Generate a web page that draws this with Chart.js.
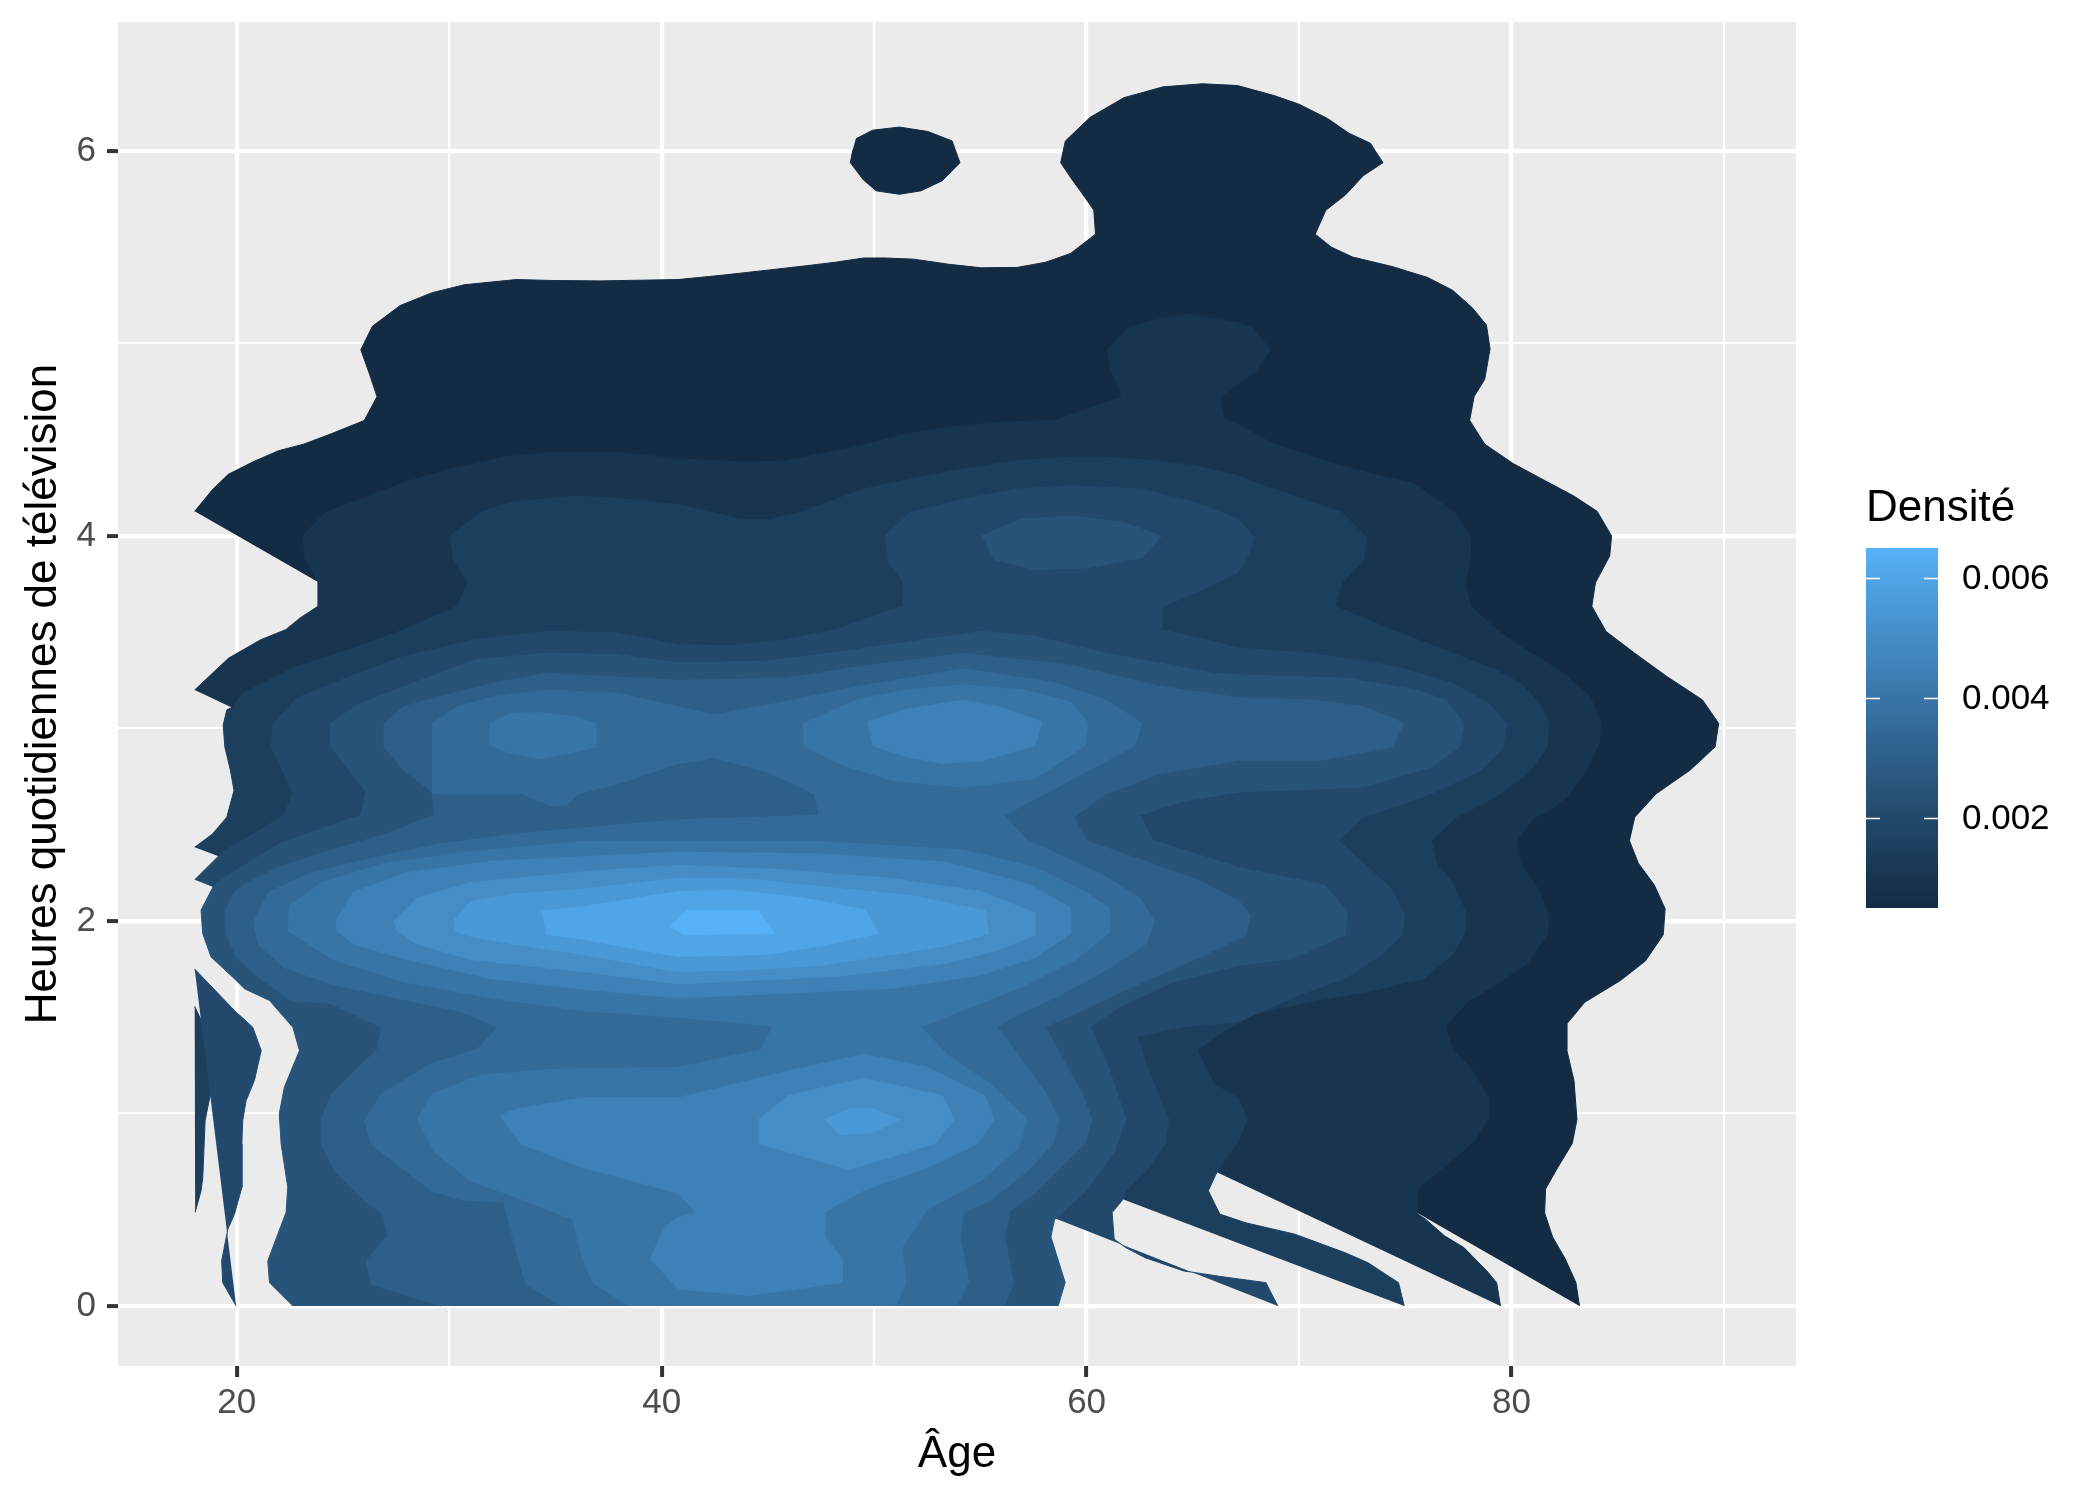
<!DOCTYPE html>
<html lang="fr">
<head>
<meta charset="UTF-8">
<title>Densité - Âge et heures de télévision</title>
<script src="https://cdn.jsdelivr.net/npm/chart.js@4.4.1/dist/chart.umd.min.js"></script>
<style>
  html, body { margin: 0; padding: 0; background: #ffffff; }
  #cadre { width: 2100px; height: 1500px; }
</style>
</head>
<body>
<div id="cadre"><canvas id="graphique" width="2100" height="1500"></canvas></div>
<script>
// niveaux des contours de densité (du plus bas au plus haut)
const niveaux = [0.0005, 0.001, 0.0015, 0.002, 0.0025, 0.003, 0.0035, 0.004, 0.0045, 0.005, 0.0055, 0.006, 0.0065];
const ticksX = [20, 40, 60, 80];
const grilleX = [20, 30, 40, 50, 60, 70, 80, 90];
const ticksY = [0, 2, 4, 6];
const grilleY = [0, 1, 2, 3, 4, 5, 6];
const ticksLegende = [0.002, 0.004, 0.006];

// contours : paires (âge, heures)
const niveau1_a = [18.02,4.128, 18.86,4.241, 19.6,4.32, 20.8,4.387, 21.97,4.443, 23.15,4.477, 24.5,4.533, 26.0,4.6, 26.6,4.724, 26.26,4.837, 25.84,4.967, 26.38,5.089, 27.69,5.197, 29.2,5.264, 30.71,5.305, 33.15,5.332, 34.92,5.327, 37.1,5.325, 40.77,5.332, 42.8,5.354, 44.98,5.381, 46.83,5.404, 48.17,5.422, 49.51,5.444, 50.52,5.444, 51.86,5.438, 53.54,5.411, 55.05,5.393, 56.73,5.395, 58.07,5.422, 59.24,5.467, 60.42,5.568, 60.34,5.692, 59.92,5.759, 59.33,5.849, 58.78,5.939, 59.0,6.052, 60.17,6.175, 61.76,6.277, 63.6,6.333, 65.45,6.349, 67.1,6.34, 68.82,6.288, 70.0,6.243, 71.34,6.169, 72.35,6.092, 73.36,6.04, 73.95,5.939, 73.03,5.872, 72.18,5.771, 71.26,5.692, 70.76,5.568, 71.51,5.501, 72.52,5.449, 74.37,5.4, 76.05,5.343, 77.23,5.276, 78.15,5.186, 78.82,5.096, 78.99,4.972, 78.74,4.814, 78.24,4.724, 78.03,4.601, 78.74,4.477, 80.08,4.376, 81.6,4.286, 82.94,4.207, 84.03,4.128, 84.71,4.0, 84.62,3.896, 83.95,3.757, 83.78,3.635, 84.45,3.504, 85.8,3.391, 87.31,3.27, 88.99,3.148, 89.75,3.026, 89.58,2.904, 88.4,2.783, 86.81,2.661, 85.8,2.539, 85.55,2.417, 85.97,2.3, 86.72,2.187, 87.23,2.063, 87.14,1.928, 86.3,1.792, 85.13,1.691, 83.45,1.578, 82.6,1.465, 82.6,1.33, 82.94,1.171, 83.08,0.968, 82.86,0.844, 82.18,0.72, 81.6,0.607, 81.56,0.483, 81.93,0.359, 82.52,0.246, 83.03,0.122, 83.2,0];
const niveau1_b = [49.14,6.063, 49.93,6.108, 51.19,6.124, 52.53,6.101, 53.67,6.052, 54.04,5.939, 53.2,5.845, 52.2,5.793, 51.19,5.775, 50.1,5.793, 49.5,5.849, 48.88,5.939, 49.0,6.007];

const niveau2_a = [18.02,3.2, 19.61,3.365, 21.13,3.461, 22.3,3.513, 22.98,3.574, 23.82,3.635, 23.82,3.765, 23.23,3.878, 23.11,4.0, 24.15,4.122, 25.84,4.191, 27.86,4.278, 30.38,4.357, 32.57,4.409, 34.75,4.435, 37.95,4.435, 40.79,4.4, 44.14,4.383, 45.82,4.391, 47.84,4.435, 49.68,4.478, 51.53,4.53, 53.54,4.565, 55.89,4.591, 58.57,4.601, 61.67,4.724, 61.09,4.882, 61.0,4.972, 62.01,5.084, 63.1,5.118, 64.78,5.152, 67.14,5.107, 67.8,5.08, 68.66,4.967, 67.9,4.848, 67.14,4.792, 66.29,4.724, 66.46,4.612, 67.14,4.578, 68.82,4.477, 71.34,4.387, 73.53,4.319, 75.38,4.274, 77.39,4.117, 78.07,3.993, 78.07,3.892, 77.82,3.757, 78.07,3.633, 79.41,3.504, 80.42,3.426, 81.43,3.357, 82.44,3.287, 83.7,3.165, 84.2,3.035, 84.12,2.922, 83.53,2.783, 82.6,2.643, 81.76,2.574, 81.0,2.53, 80.25,2.417, 80.42,2.3, 81.26,2.165, 81.76,2.029, 81.68,1.928, 80.76,1.781, 79.24,1.668, 77.9,1.578, 76.89,1.454, 77.23,1.33, 78.07,1.239, 78.91,1.081, 78.91,0.98, 78.24,0.856, 77.06,0.743, 75.55,0.607, 75.59,0.477, 75.95,0.451, 76.85,0.364, 77.76,0.303, 78.84,0.182, 79.3,0.121, 79.48,0];

const niveau3_a = [18.02,2.383, 18.86,2.452, 19.53,2.539, 19.87,2.678, 19.7,2.783, 19.44,2.904, 19.36,3.017, 19.53,3.096, 19.78,3.11, 20.29,3.183, 22.81,3.322, 25.33,3.409, 27.86,3.513, 30.38,3.635, 30.88,3.757, 30.21,3.878, 30.04,4.0, 31.47,4.122, 32.9,4.173, 35.76,4.207, 37.95,4.196, 40.77,4.162, 42.47,4.122, 43.64,4.087, 45.15,4.087, 46.49,4.122, 48.0,4.183, 49.51,4.243, 51.69,4.296, 54.21,4.348, 56.73,4.391, 59.24,4.409, 60.92,4.409, 63.1,4.391, 65.12,4.365, 67.1,4.313, 69.66,4.209, 72.02,4.122, 73.19,3.991, 73.03,3.87, 72.02,3.757, 71.68,3.635, 74.37,3.513, 77.23,3.391, 79.24,3.304, 80.42,3.235, 81.26,3.139, 81.76,3.026, 81.68,2.904, 80.76,2.765, 79.24,2.643, 77.39,2.539, 76.22,2.417, 76.47,2.3, 77.23,2.199, 77.82,2.052, 77.82,1.939, 77.23,1.826, 75.88,1.702, 73.5,1.64, 70.5,1.58, 68.0,1.52, 66.5,1.43, 65.2,1.33, 66.0,1.15, 67.14,1.08, 67.56,0.97, 67.14,0.856, 66.5,0.76, 66.09,0.685, 65.73,0.598, 66.27,0.477, 67.45,0.433, 69.8,0.373, 72.15,0.277, 73.24,0.225, 74.68,0.121, 74.95,0];
const niveau3_b = [18.02,1.556, 18.9,1.35, 18.76,1.10, 18.51,0.963, 18.4,0.668, 18.32,0.598, 18.04,0.486];

const niveau4_a = [18.02,2.214, 19.16,2.339, 19.44,2.365, 20.79,2.452, 22.22,2.548, 22.64,2.661, 22.14,2.783, 21.63,2.904, 21.72,3.026, 22.81,3.157, 25.33,3.27, 27.86,3.374, 31.22,3.461, 34.58,3.504, 37.95,3.496, 40.79,3.435, 43.31,3.43, 45.82,3.461, 48.17,3.513, 51.36,3.635, 51.36,3.765, 50.69,3.861, 50.52,4.0, 51.69,4.122, 54.21,4.191, 56.73,4.243, 59.24,4.261, 62.6,4.243, 65.12,4.174, 67.14,4.087, 67.9,3.991, 67.56,3.887, 67.1,3.809, 65.12,3.704, 63.61,3.635, 63.52,3.513, 65.96,3.452, 67.14,3.417, 70.5,3.391, 74.54,3.322, 77.23,3.235, 78.91,3.13, 79.78,3.026, 79.58,2.896, 78.57,2.783, 76.22,2.661, 73.03,2.539, 71.85,2.417, 73.03,2.3, 74.37,2.165, 74.96,2.029, 74.87,1.928, 73.87,1.826, 72.18,1.702, 70.17,1.623, 67.14,1.476, 64.5,1.45, 62.35,1.4, 63.0,1.2, 63.86,0.97, 63.7,0.844, 62.8,0.7, 61.84,0.598, 61.66,0.546, 61.2,0.485, 61.3,0.347, 61.84,0.303, 62.75,0.251, 64.56,0.182, 66.5,0.15, 68.44,0.121, 69.0,0];
const niveau4_b = [18.02,1.75, 19.89,1.535, 20.75,1.448, 21.15,1.327, 20.83,1.171, 20.44,1.067, 20.28,0.963, 20.24,0.841, 20.24,0.616, 19.89,0.477, 19.58,0.399, 19.29,0.234, 19.34,0.121, 19.97,0];

const niveau5_a = [22.64,0, 21.54,0.121, 21.46,0.234, 22.32,0.486, 22.4,0.616, 22.09,0.841, 22.0,0.997, 22.24,1.136, 22.95,1.327, 22.64,1.448, 21.54,1.587, 20.36,1.648, 19.89,1.7, 18.79,1.813, 18.4,1.934, 18.32,2.056, 18.9,2.18, 19.5,2.23, 20.5,2.3, 22.0,2.4, 24.0,2.48, 25.84,2.55, 26.09,2.67, 24.41,2.91, 24.41,3.026, 25.67,3.122, 27.86,3.217, 31.22,3.357, 34.58,3.391, 37.95,3.383, 40.79,3.34, 45.0,3.35, 49.2,3.41, 55.05,3.504, 57.57,3.478, 60.92,3.391, 65.96,3.287, 67.14,3.278, 72.18,3.261, 75.55,3.2, 76.89,3.148, 77.78,3.026, 77.56,2.904, 76.22,2.8, 73.03,2.696, 67.14,2.67, 64.5,2.62, 62.5,2.55, 63.1,2.42, 67.14,2.278, 71.18,2.187, 72.27,2.052, 72.18,1.928, 69.66,1.804, 67.14,1.77, 64.0,1.68, 61.5,1.55, 60.17,1.45, 61.0,1.25, 61.85,0.97, 61.3,0.8, 60.0,0.6, 58.49,0.449, 58.32,0.359, 58.99,0.122, 58.66,0];
const niveau5_b = [55.05,4.0, 56.9,4.087, 59.24,4.104, 61.76,4.07, 63.52,4.0, 62.6,3.887, 60.08,3.835, 57.57,3.826, 55.64,3.878];

const niveau6_a = [29.62,0, 26.33,0.113, 26.09,0.234, 27.11,0.364, 26.88,0.477, 26.01,0.546, 24.6,0.703, 23.97,0.841, 23.97,0.963, 24.44,1.101, 26.64,1.336, 26.8,1.448, 24.44,1.57, 22.56,1.587, 20.99,1.709, 19.97,1.813, 19.5,1.934, 19.45,2.05, 19.9,2.15, 20.5,2.2, 22.0,2.28, 24.5,2.37, 27.0,2.45, 29.3,2.55, 29.2,2.67, 27.86,2.783, 26.93,2.904, 26.93,3.026, 27.86,3.113, 29.54,3.165, 32.06,3.235, 34.58,3.287, 40.77,3.25, 45.8,3.26, 49.2,3.32, 54.2,3.39, 59.2,3.33, 63.4,3.22, 67.14,3.16, 70.5,3.148, 73.03,3.113, 74.96,3.026, 74.37,2.904, 71.0,2.835, 67.14,2.835, 63.44,2.765, 60.92,2.661, 59.41,2.539, 60.0,2.417, 63.1,2.297, 65.5,2.2, 67.2,2.1, 67.7,2.03, 67.5,1.93, 65.5,1.82, 62.0,1.65, 59.5,1.52, 58.07,1.45, 58.8,1.3, 59.8,1.1, 60.25,0.97, 59.92,0.844, 57.57,0.585, 56.39,0.494, 56.14,0.359, 56.56,0.122, 56.14,0];

const niveau7_a = [35.26,0, 33.57,0.12, 33.24,0.25, 32.56,0.54, 30.6,0.55, 29.15,0.598, 27.74,0.72, 26.33,0.841, 26.01,0.963, 26.8,1.101, 29.15,1.258, 31.35,1.336, 32.29,1.448, 30.5,1.53, 27.5,1.6, 24.5,1.67, 22.2,1.76, 21.0,1.88, 20.8,2.0, 21.5,2.15, 23.5,2.25, 26.5,2.33, 29.5,2.4, 33.0,2.45, 37.0,2.49, 40.79,2.526, 47.42,2.549, 47.17,2.661, 44.98,2.774, 42.47,2.847, 40.77,2.817, 37.95,2.713, 36.1,2.661, 35.5,2.6, 34.75,2.6, 33.4,2.661, 29.2,2.661, 29.2,3.026, 30.38,3.113, 32.06,3.165, 34.58,3.2, 37.95,3.183, 40.77,3.113, 42.47,3.07, 45.82,3.139, 49.18,3.217, 54.21,3.31, 58.4,3.24, 60.92,3.148, 62.6,3.03, 62.27,2.91, 60.92,2.83, 58.24,2.673, 56.14,2.549, 57.15,2.424, 59.0,2.33, 60.9,2.23, 62.5,2.12, 63.2,2.0, 62.8,1.88, 61.0,1.75, 58.5,1.6, 56.5,1.5, 55.8,1.45, 56.8,1.3, 58.0,1.12, 58.7,0.97, 58.4,0.84, 57.2,0.7, 55.5,0.55, 54.21,0.483, 54.04,0.359, 54.46,0.122, 53.88,0];

const niveau8_a = [38.45,0, 36.77,0.12, 36.27,0.246, 35.8,0.45, 33.5,0.55, 31.0,0.65, 29.3,0.8, 28.5,0.97, 29.2,1.1, 31.5,1.2, 35.0,1.23, 40.79,1.24, 44.66,1.33, 45.24,1.454, 40.79,1.5, 36.3,1.533, 32.0,1.6, 28.0,1.68, 24.5,1.8, 22.4,1.95, 22.5,2.08, 24.0,2.2, 27.0,2.3, 31.0,2.36, 36.3,2.413, 40.79,2.413, 47.5,2.413, 54.21,2.368, 57.57,2.278, 60.08,2.142, 61.09,2.063, 61.09,1.94, 59.5,1.8, 57.0,1.66, 54.0,1.53, 52.2,1.45, 53.5,1.3, 55.5,1.15, 57.2,0.97, 56.8,0.82, 55.0,0.65, 52.5,0.5, 51.3,0.3, 51.5,0.12, 51.02,0];
const niveau8_b = [31.89,3.026, 32.9,3.078, 34.25,3.082, 35.93,3.061, 36.9,3.026, 36.9,2.904, 35.59,2.87, 34.25,2.843, 32.9,2.87, 31.89,2.913];
const niveau8_c = [46.66,3.026, 49.18,3.148, 51.5,3.2, 54.21,3.226, 57.0,3.2, 59.24,3.139, 60.08,3.026, 59.92,2.91, 57.57,2.74, 54.21,2.695, 50.86,2.73, 48.5,2.81, 46.66,2.91];

const niveau9_a = [24.66,2.0, 25.5,2.15, 28.0,2.25, 32.0,2.31, 36.3,2.334, 40.79,2.357, 47.5,2.348, 53.37,2.305, 57.23,2.192, 59.24,2.07, 59.24,1.935, 57.57,1.81, 55.05,1.72, 50.86,1.65, 40.79,1.6, 36.3,1.646, 32.0,1.7, 28.0,1.8, 25.5,1.88, 24.7,1.95];
const niveau9_b = [49.68,3.034, 51.53,3.1, 54.21,3.147, 55.89,3.113, 57.9,3.034, 57.57,2.91, 55.05,2.831, 53.2,2.819, 51.53,2.853, 49.93,2.91];
const niveau9_c = [32.36,0.99, 33.24,1.025, 36.27,1.081, 40.79,1.081, 45.82,1.217, 49.51,1.307, 52.5,1.24, 55.22,1.093, 55.64,0.968, 54.88,0.844, 52.53,0.72, 49.5,0.6, 48.17,0.52, 47.67,0.483, 47.67,0.359, 48.5,0.246, 48.5,0.122, 44.14,0.054, 40.79,0.088, 39.46,0.246, 40.13,0.404, 40.77,0.46, 41.63,0.483, 40.79,0.585, 36.27,0.72, 33.32,0.844];

const niveau10_a = [27.4,2.0, 28.5,2.12, 31.0,2.2, 36.3,2.255, 40.79,2.29, 45.82,2.266, 50.86,2.22, 55.05,2.153, 57.57,2.04, 57.57,1.928, 55.89,1.849, 53.37,1.78, 48.34,1.713, 40.79,1.673, 36.3,1.736, 31.0,1.8, 28.5,1.88, 27.5,1.95];
const niveau10_b = [44.56,0.968, 45.99,1.093, 49.51,1.183, 53.2,1.093, 53.79,0.968, 52.87,0.844, 48.84,0.709, 44.56,0.844];

const niveau11_a = [30.2,2.0, 31.0,2.1, 33.0,2.14, 36.3,2.165, 40.79,2.223, 44.14,2.217, 47.5,2.178, 51.69,2.133, 55.22,2.054, 55.39,1.935, 53.37,1.871, 50.86,1.826, 47.5,1.77, 44.14,1.747, 40.79,1.736, 36.3,1.826, 33.0,1.88, 31.0,1.92, 30.25,1.95];
const niveau11_b = [47.67,0.968, 48.84,1.025, 49.93,1.025, 51.19,0.968, 49.93,0.9, 48.34,0.889];

const niveau12_a = [34.33,2.05, 36.3,2.074, 40.79,2.153, 43.31,2.16, 46.66,2.12, 49.6,2.056, 50.2,1.935, 47.5,1.871, 44.98,1.826, 40.79,1.815, 36.3,1.905, 34.58,1.93];

const niveau13_a = [40.39,1.97, 41.2,2.056, 44.56,2.056, 45.32,1.935, 41.0,1.93];

const polygones = [
  [1, niveau1_a], [1, niveau1_b],
  [2, niveau2_a],
  [3, niveau3_a], [3, niveau3_b],
  [4, niveau4_a], [4, niveau4_b],
  [5, niveau5_a], [5, niveau5_b],
  [6, niveau6_a],
  [7, niveau7_a],
  [8, niveau8_a], [8, niveau8_b], [8, niveau8_c],
  [9, niveau9_a], [9, niveau9_b], [9, niveau9_c],
  [10, niveau10_a], [10, niveau10_b],
  [11, niveau11_a], [11, niveau11_b],
  [12, niveau12_a],
  [13, niveau13_a]
];

// dégradé de ggplot (#132B43 -> #56B1F7) interpolé dans l'espace Lab
function hexVersLab(hex) {
  const c = [1, 3, 5].map(i => parseInt(hex.substr(i, 2), 16) / 255)
    .map(v => v <= 0.04045 ? v / 12.92 : Math.pow((v + 0.055) / 1.055, 2.4));
  const X = (0.4124 * c[0] + 0.3576 * c[1] + 0.1805 * c[2]) / 0.95047;
  const Y = 0.2126 * c[0] + 0.7152 * c[1] + 0.0722 * c[2];
  const Z = (0.0193 * c[0] + 0.1192 * c[1] + 0.9505 * c[2]) / 1.08883;
  const f = t => t > 0.008856 ? Math.cbrt(t) : 7.787 * t + 16 / 116;
  return [116 * f(Y) - 16, 500 * (f(X) - f(Y)), 200 * (f(Y) - f(Z))];
}
function labVersHex(L, a, b) {
  const fy = (L + 16) / 116, fx = fy + a / 500, fz = fy - b / 200;
  const inv = t => t * t * t > 0.008856 ? t * t * t : (t - 16 / 116) / 7.787;
  const X = inv(fx) * 0.95047, Y = inv(fy), Z = inv(fz) * 1.08883;
  const lin = [
    3.2406 * X - 1.5372 * Y - 0.4986 * Z,
    -0.9689 * X + 1.8758 * Y + 0.0415 * Z,
    0.0557 * X - 0.2040 * Y + 1.0570 * Z
  ];
  return '#' + lin.map(v => {
    v = v <= 0.0031308 ? 12.92 * v : 1.055 * Math.pow(v, 1 / 2.4) - 0.055;
    const n = Math.round(Math.max(0, Math.min(1, v)) * 255);
    return n.toString(16).padStart(2, '0');
  }).join('');
}
const labBas = hexVersLab('#132B43');
const labHaut = hexVersLab('#56B1F7');
const vMin = niveaux[0], vMax = niveaux[niveaux.length - 1];
function couleur(v) {
  const t = (v - vMin) / (vMax - vMin);
  return labVersHex(labBas[0] + t * (labHaut[0] - labBas[0]),
                    labBas[1] + t * (labHaut[1] - labBas[1]),
                    labBas[2] + t * (labHaut[2] - labBas[2]));
}

function enPoints(plat) {
  const pts = [];
  for (let i = 0; i < plat.length; i += 2) pts.push({x: plat[i], y: plat[i + 1]});
  return pts;
}

const datasets = polygones.map(([k, plat], j) => {
  const c = couleur(niveaux[k - 1]);
  return {
    label: 'niveau ' + k,
    data: enPoints(plat),
    showLine: true,
    fill: 'shape',
    backgroundColor: c,
    borderColor: c,
    borderWidth: 1,
    pointRadius: 0,
    tension: 0,
    order: 1000 - j   // les niveaux bas sont dessinés en premier
  };
});

const police = '"Liberation Sans", Arial, sans-serif';

// fond gris du panneau
const fondPanneau = {
  id: 'fondPanneau',
  beforeDraw(chart) {
    const {ctx, chartArea: a} = chart;
    ctx.save();
    ctx.fillStyle = '#EBEBEB';
    ctx.fillRect(a.left, a.top, a.right - a.left, a.bottom - a.top);
    ctx.restore();
  }
};

// légende : barre de couleur continue
const legendeDensite = {
  id: 'legendeDensite',
  afterDraw(chart) {
    const ctx = chart.ctx;
    const x0 = 1866, largeur = 72, haut = 548, bas = 908;
    ctx.save();
    ctx.fillStyle = '#000000';
    ctx.font = '44px ' + police;
    ctx.textBaseline = 'alphabetic';
    ctx.textAlign = 'left';
    ctx.fillText('Densité', 1866, 521);

    const degrade = ctx.createLinearGradient(0, bas, 0, haut);
    const nb = 60;
    for (let i = 0; i <= nb; i++) {
      degrade.addColorStop(i / nb, couleur(vMin + i / nb * (vMax - vMin)));
    }
    ctx.fillStyle = degrade;
    ctx.fillRect(x0, haut, largeur, bas - haut);

    ctx.strokeStyle = '#FFFFFF';
    ctx.lineWidth = 1.3;
    ctx.font = '35px ' + police;
    ctx.textBaseline = 'middle';
    ctx.fillStyle = '#000000';
    ticksLegende.forEach(v => {
      const y = Math.round(bas - (v - vMin) / (vMax - vMin) * (bas - haut)) + 0.5;
      ctx.beginPath();
      ctx.moveTo(x0, y); ctx.lineTo(x0 + 14, y);
      ctx.moveTo(x0 + largeur - 14, y); ctx.lineTo(x0 + largeur, y);
      ctx.stroke();
      ctx.fillText(v.toFixed(3), 1962, y + 1);
    });
    ctx.restore();
  }
};

const estMajeurX = v => ticksX.includes(v);
const estMajeurY = v => ticksY.includes(v);

new Chart(document.getElementById('graphique'), {
  type: 'scatter',
  data: { datasets },
  options: {
    responsive: false,
    animation: false,
    devicePixelRatio: 1,
    events: [],
    layout: { autoPadding: false, padding: { left: 0, top: 22, right: 304, bottom: 0 } },
    plugins: {
      legend: { display: false },
      tooltip: { enabled: false },
      filler: { propagate: false }
    },
    scales: {
      x: {
        type: 'linear',
        min: 14.41,
        max: 93.39,
        afterBuildTicks: s => { s.ticks = grilleX.map(v => ({value: v})); },
        afterFit: s => { s.height = 134; s.paddingLeft = 0; s.paddingRight = 0; s.paddingTop = 0; s.paddingBottom = 0; },
        border: { display: false },
        grid: {
          color: '#FFFFFF',
          lineWidth: c => estMajeurX(c.tick.value) ? 4.2 : 2.1,
          drawTicks: true,
          tickLength: 11,
          tickColor: c => estMajeurX(c.tick.value) ? '#333333' : 'rgba(0,0,0,0)',
          tickWidth: c => estMajeurX(c.tick.value) ? 4 : 0
        },
        ticks: {
          autoSkip: false,
          maxRotation: 0,
          padding: 5,
          color: '#4D4D4D',
          font: { family: police, size: 35 },
          callback: v => estMajeurX(v) ? String(v) : ''
        },
        title: {
          display: true,
          text: 'Âge',
          color: '#000000',
          font: { family: police, size: 44 },
          padding: { top: 0, bottom: 19 }
        }
      },
      y: {
        type: 'linear',
        min: -0.312,
        max: 6.670,
        afterBuildTicks: s => { s.ticks = grilleY.map(v => ({value: v})); },
        afterFit: s => { s.width = 118; s.paddingTop = 0; s.paddingBottom = 0; s.paddingLeft = 0; s.paddingRight = 0; },
        border: { display: false },
        grid: {
          color: '#FFFFFF',
          lineWidth: c => estMajeurY(c.tick.value) ? 4.2 : 2.1,
          drawTicks: true,
          tickLength: 11,
          tickColor: c => estMajeurY(c.tick.value) ? '#333333' : 'rgba(0,0,0,0)',
          tickWidth: c => estMajeurY(c.tick.value) ? 4 : 0
        },
        ticks: {
          autoSkip: false,
          padding: 11,
          color: '#4D4D4D',
          font: { family: police, size: 35 },
          callback: v => estMajeurY(v) ? String(v) : ''
        },
        title: {
          display: true,
          text: 'Heures quotidiennes de télévision',
          color: '#000000',
          font: { family: police, size: 44 },
          padding: { top: 17, bottom: 0 }
        }
      }
    }
  },
  plugins: [fondPanneau, legendeDensite]
});
</script>
</body>
</html>
